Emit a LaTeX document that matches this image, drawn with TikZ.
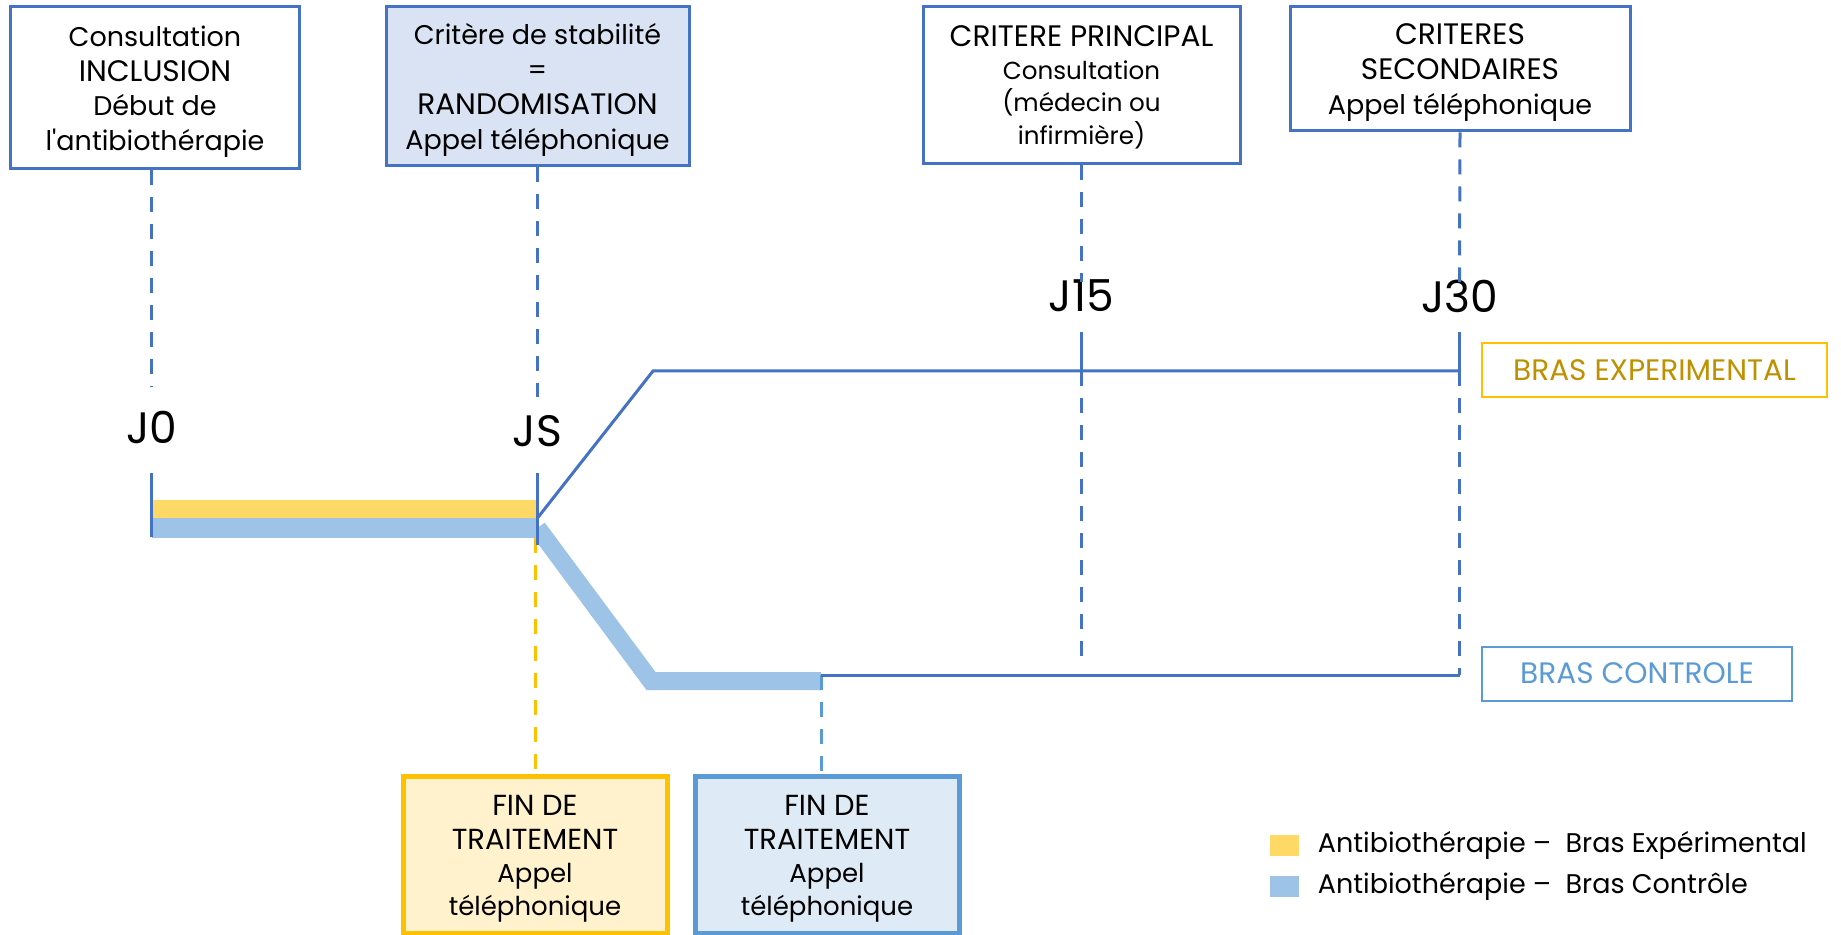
\documentclass[tikz,border=0pt]{standalone}
\usepackage{fontspec}
\setmainfont{Poppins}
\usepackage{xcolor}
\usepackage{tikz}
\usetikzlibrary{positioning,calc}

\definecolor{linebl}{HTML}{4472C4}
\definecolor{randofill}{HTML}{DAE3F3}
\definecolor{expbar}{HTML}{FFD966}
\definecolor{ctrlbar}{HTML}{9DC3E6}
\definecolor{expline}{HTML}{FFC000}
\definecolor{exptext}{HTML}{BF9000}
\definecolor{ctrlline}{HTML}{5B9BD5}
\definecolor{expfill}{HTML}{FFF2CC}
\definecolor{ctrlfill}{HTML}{DEEBF7}

% lines of a box, dropped a little without changing its size
\newcommand{\boxlines}[2]{\raisebox{#1}[\height][\depth]{\begin{tabular}{@{}c@{}}#2\end{tabular}}}
\newcommand{\capsz}{\fontsize{14.8}{17}\selectfont}

\begin{document}
\begin{tikzpicture}[x=0.5pt, y=-0.5pt,
    topbox/.style={rectangle, draw=linebl, line width=1.5pt, inner sep=0pt, font=\fontsize{13.5}{17.4}\selectfont},
    finbox/.style={rectangle, line width=2.5pt, inner sep=0pt, minimum width=132pt, minimum height=78.5pt, font=\fontsize{13}{16.7}\selectfont},
    armbox/.style={rectangle, line width=1pt, inner sep=0pt, minimum height=27pt, font=\capsz},
    daylab/.style={inner sep=0pt, font=\fontsize{22}{26}\selectfont},
    dashln/.style={draw=linebl, line width=1.5pt, dash pattern=on 7.5pt off 6pt},
    tline/.style={draw=linebl, line width=1.5pt},
    legsq/.style={rectangle, inner sep=0pt, minimum width=14.5pt, minimum height=10.5pt},
    legtxt/.style={inner sep=0pt, anchor=west, font=\fontsize{13.5}{16}\selectfont}]

    \useasboundingbox (0,0) rectangle (1841,935);

    % top boxes
    \node[topbox, minimum width=144.5pt, minimum height=81pt] (incl) at (155,88)
        {\boxlines{-1.75pt}{Consultation\\{\capsz INCLUSION}\\Début de\\l\textquotesingle antibiothérapie}};
    \node[topbox, fill=randofill, minimum width=151.5pt, minimum height=79.5pt] (rando) at (537.5,86.5)
        {\boxlines{-1.75pt}{Critère de stabilité\\=\\{\capsz RANDOMISATION}\\Appel téléphonique}};
    \node[topbox, minimum width=158.5pt, minimum height=78.5pt, font=\fontsize{12.3}{16.3}\selectfont] (princ) at (1081.5,85.5)
        {\boxlines{-1.75pt}{{\capsz CRITERE PRINCIPAL}\\Consultation\\(médecin ou\\infirmière)}};
    \node[topbox, minimum width=170pt, minimum height=62pt] (second) at (1460,69)
        {\boxlines{-1.75pt}{{\capsz CRITERES}\\{\capsz SECONDAIRES}\\Appel téléphonique}};

    % day labels
    \node[daylab] (j0) at (151.5,428) {J0};
    \node[daylab] (js) at (537.5,431) {JS};
    \node[daylab] (j15) at (1081.5,296) {J15};
    \node[daylab] (j30) at (1459.5,296) {J30};

    % timeline points
    \coordinate (d0) at (151.5,387);
    \coordinate (ds) at (537.5,397);
    \coordinate (d15) at (1081.5,282);
    \coordinate (d30) at (1459.5,282);
    \coordinate (split) at (537.5,518);
    \coordinate (upknee) at (653,371);
    \coordinate (up15) at (1081.5,371);
    \coordinate (up30) at (1459.5,371);
    \coordinate (downknee) at (651,681);
    \coordinate (ctrlend) at (821,681);
    \coordinate (low) at (821,675);
    \coordinate (low15) at (1081.5,663);
    \coordinate (low30) at (1459.5,675);

    % treatment bars
    \fill[expbar] (151.5,500) rectangle (split);
    \fill[ctrlbar] (151.5,518) rectangle (537.5,538);
    \draw[ctrlbar, line width=9pt, line join=miter] (537.5,528) -- (downknee) -- (ctrlend);

    % bottom boxes
    \node[finbox, draw=expline, fill=expfill] (finexp) at (535,854.5)
        {\boxlines{-2.35pt}{{\fontsize{14.5}{16.7}\selectfont FIN DE}\\{\fontsize{14.5}{16.7}\selectfont TRAITEMENT}\\Appel\\téléphonique}};
    \node[finbox, draw=ctrlline, fill=ctrlfill] (finctrl) at (827,854.5)
        {\boxlines{-2.35pt}{{\fontsize{14.5}{16.7}\selectfont FIN DE}\\{\fontsize{14.5}{16.7}\selectfont TRAITEMENT}\\Appel\\téléphonique}};

    % arm labels
    \node[armbox, draw=expline, text=exptext, minimum width=172.5pt] (armexp) at (1654.5,370) {BRAS EXPERIMENTAL};
    \node[armbox, draw=ctrlline, text=ctrlline, minimum width=155pt] (armctrl) at (1637,673.5) {BRAS CONTROLE};

    % dashed guides
    \draw[dashln] (incl.south -| d0) -- (d0);
    \draw[dashln] (rando.south) -- (ds);
    \draw[dashln] (princ.south) -- (d15);
    \draw[dashln] (second.south) -- (d30);
    \draw[dashln] (up15) -- (low15);
    \draw[dashln] (up30) -- (low30);
    \draw[dashln, draw=expline] (finexp.north |- 0,538) -- (finexp.north);
    \draw[dashln, draw=ctrlline] (low) -- (finctrl.north -| low);

    % ticks and arms
    \draw[tline] (151.5,473) -- (151.5,537);
    \draw[tline] (537.5,473) -- (537.5,545);
    \draw[tline] (split) -- (upknee) -- (up30);
    \draw[tline] (1081.5,332) -- (up15);
    \draw[tline] (1459.5,332) -- (up30);
    \draw[tline] (low) -- (low30);

    % legend
    \node[legsq, fill=expbar] (legexp) at (1284.5,845) {};
    \node[legsq, fill=ctrlbar] (legctrl) at (1284.5,886) {};
    \node[legtxt, right=9pt of legexp] (legexptxt) {Antibiothérapie –\ \ Bras Expérimental};
    \node[legtxt, right=9pt of legctrl] (legctrltxt) {Antibiothérapie –\ \ Bras Contrôle};
\end{tikzpicture}
\end{document}
